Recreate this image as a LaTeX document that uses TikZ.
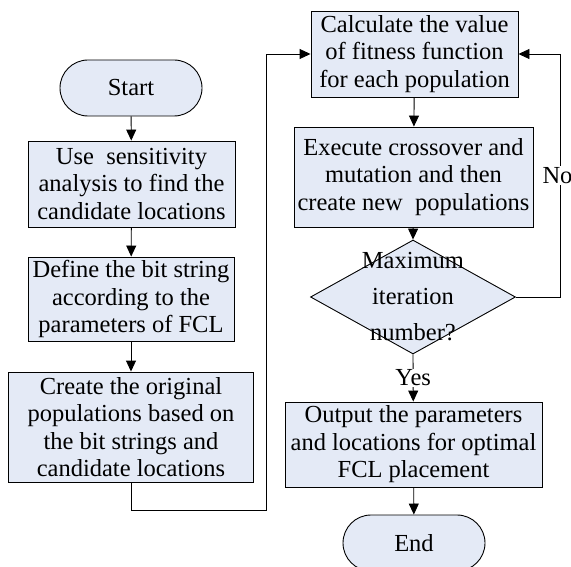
\documentclass[tikz,border=0pt]{standalone}
\usepackage{fontspec}
\setmainfont{Liberation Serif}
\usetikzlibrary{arrows.meta,shapes.geometric}
\definecolor{boxfill}{RGB}{228,234,246}

\begin{document}
\begin{tikzpicture}
[
    x=1pt, y=-1pt,
    every node/.style={font=\fontsize{24.5}{27.5}\selectfont, align=center},
    proc/.style={draw, line width=0.9pt, fill=boxfill, inner sep=0pt},
    term/.style={proc, minimum width=142pt, minimum height=56pt, rounded corners=28pt},
    flow/.style={line width=0.9pt, -{Triangle[width=10pt,length=11pt]}},
    link/.style={line width=0.9pt},
]
\useasboundingbox (0,0) rectangle (571,567);

% left column
\node [term] (start) at (131,88) {Start};
\node [proc, minimum width=207pt, minimum height=86pt] (sens) at (131.5,184)
{Use~~sensitivity\\analysis to find the\\candidate locations};
\node [proc, minimum width=206pt, minimum height=84pt] (bits) at (131,299)
{Define the bit string\\according to the\\parameters of FCL};
\node [proc, minimum width=245pt, minimum height=110pt] (popu) at (131,427)
{Create the original\\populations based on\\the bit strings and\\candidate locations};

% right column
\node [proc, minimum width=207pt, minimum height=86pt] (fitn) at (414.5,54)
{Calculate the value\\of fitness function\\for each population};
\node [proc, minimum width=239pt, minimum height=100pt] (cros) at (413.5,177)
{Execute crossover and\\mutation and then\\create new~~populations};
\node [draw, line width=0.9pt, fill=boxfill, shape=diamond, inner sep=0pt,
       minimum width=205pt, minimum height=114pt,
       label={[font=\fontsize{24.5}{36}\selectfont, align=center]center:Maximum\\iteration\\number?}]
      (maxi) at (413,297) {};
\node [proc, minimum width=257pt, minimum height=85pt] (outp) at (413.5,444.5)
{Output the parameters\\and locations for optimal\\FCL placement};
\node [term] (end) at (414,543) {End};

\coordinate (jump) at (266,54);
\coordinate (back) at (560,54);

\draw [flow] (start) -- (sens);
\draw [flow] (sens) -- (bits);
\draw [flow] (bits) -- (popu);
\draw [link] (popu.south) -- ++(0,28) -| (jump);
\draw [flow] (jump) -- (fitn.west);
\draw [flow] (fitn) -- (cros);
\draw [flow] (cros) -- (maxi.north);
\draw [link] (maxi.east) -| node [pos=0.75, fill=white, inner sep=1pt, xshift=-2.5pt] {No} (back);
\draw [flow] (back) -- (fitn.east);
\draw [flow] (maxi.south) -- node [fill=white, inner sep=1pt] {Yes} (outp);
\draw [flow] (outp) -- (end);
\end{tikzpicture}
\end{document}
